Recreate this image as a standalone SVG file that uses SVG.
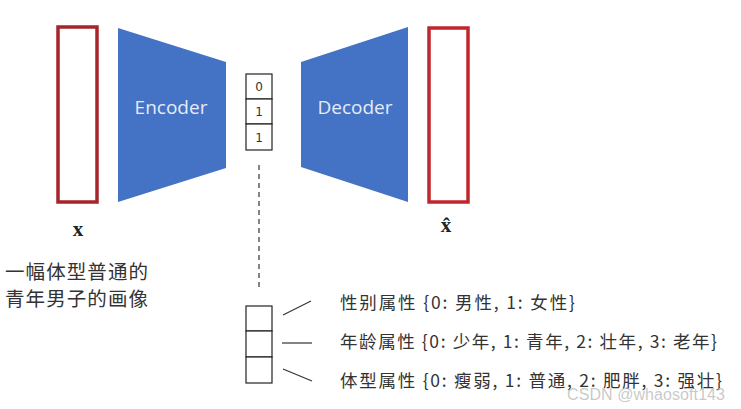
<svg xmlns="http://www.w3.org/2000/svg" width="741" height="409" viewBox="0 0 741 409">
<style>
.frame{fill:none;stroke-width:3.5}
.trap{fill:#4472c4}
.tlabel{font-family:"Open Sans","Liberation Sans",sans-serif;font-size:19px;fill:#e6ecf7;text-anchor:middle}
.cell{fill:#fff;stroke:#222;stroke-width:1.2}
.bit{font-family:"DejaVu Sans","Liberation Sans",sans-serif;font-size:12px;fill:#333;text-anchor:middle}
.math{font-family:"Liberation Serif","DejaVu Serif",serif;font-weight:bold;font-size:21px;fill:#222;text-anchor:middle}
.cjk{font-family:"Noto Sans CJK SC","Liberation Sans",sans-serif;fill:#333}
.attr{font-size:17.5px}
.conn{stroke:#333;stroke-width:1.2;fill:none}
</style>
<rect width="741" height="409" fill="#fff"/>
<g id="input">
<rect class="frame" x="58" y="27" width="39" height="175" stroke="#a3262a"/>
<text class="math" x="78" y="236">x</text>
</g>
<g id="encoder">
<polygon class="trap" points="118,28 226,62 226,168 118,202"/>
<text class="tlabel" x="171" y="114">Encoder</text>
</g>
<g id="latent">
<rect class="cell" x="246" y="74" width="26" height="25"/>
<rect class="cell" x="246" y="99" width="26" height="25"/>
<rect class="cell" x="246" y="124" width="26" height="26"/>
<text class="bit" x="259" y="91">0</text>
<text class="bit" x="259" y="116">1</text>
<text class="bit" x="259" y="142">1</text>
</g>
<g id="decoder">
<polygon class="trap" points="301,62 408,27 408,202 301,167"/>
<text class="tlabel" x="355" y="114">Decoder</text>
</g>
<g id="output">
<rect class="frame" x="429" y="28" width="39" height="174" stroke="#c0272d"/>
<text class="math" x="446" y="232">x̂</text>
</g>
<g id="caption">
<text class="cjk" x="5" y="279" font-size="19.5" textLength="143" lengthAdjust="spacing">一幅体型普通的</text>
<text class="cjk" x="5" y="306" font-size="19.5" textLength="143" lengthAdjust="spacing">青年男子的画像</text>
</g>
<g id="attributes">
<rect class="cell" x="246" y="306" width="26" height="25"/>
<rect class="cell" x="246" y="331" width="26" height="26"/>
<rect class="cell" x="246" y="357" width="26" height="26"/>
<text class="cjk attr" x="340" y="309" textLength="235" lengthAdjust="spacing">性别属性 {0: 男性, 1: 女性}</text>
<text class="cjk attr" x="340" y="348" textLength="377" lengthAdjust="spacing">年龄属性 {0: 少年, 1: 青年, 2: 壮年, 3: 老年}</text>
<text class="cjk attr" x="340" y="387" textLength="382" lengthAdjust="spacing">体型属性 {0: 瘦弱, 1: 普通, 2: 肥胖, 3: 强壮}</text>
</g>
<g id="connectors">
<line class="conn" x1="259" y1="165" x2="259" y2="291" stroke-dasharray="5,4"/>
<line class="conn" x1="283" y1="315" x2="311" y2="301"/>
<line class="conn" x1="282" y1="343" x2="312" y2="343"/>
<line class="conn" x1="283" y1="369" x2="312" y2="381"/>
</g>
<text x="567" y="400" font-family="Liberation Sans,sans-serif" font-size="16" fill="#bbb" fill-opacity="0.8" textLength="158" lengthAdjust="spacing">CSDN @whaosoft143</text>
</svg>
